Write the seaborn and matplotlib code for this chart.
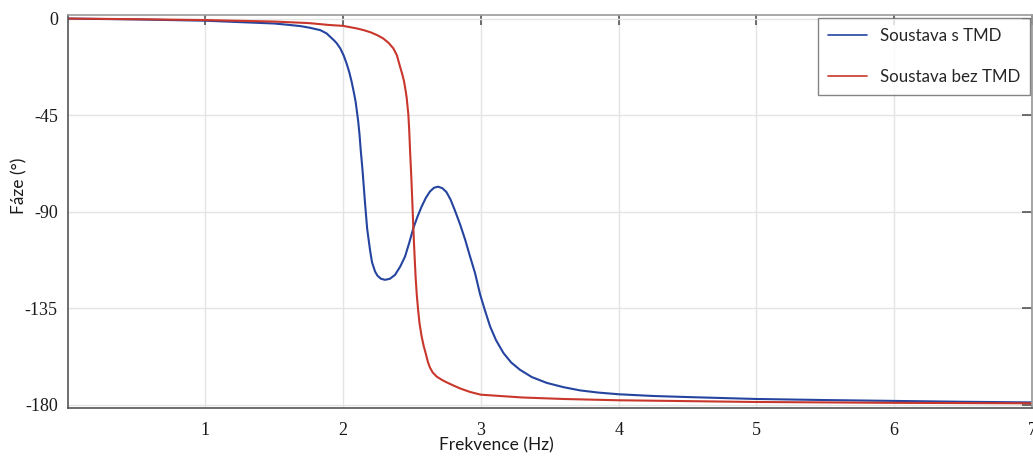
import matplotlib
matplotlib.use("Agg")
import matplotlib.pyplot as plt
import pandas as pd
import seaborn as sns

# Phase response of the structure with and without the tuned mass damper
freq_tmd = [0.0, 0.5, 1.0, 1.5, 1.6, 1.69, 1.76, 1.835, 1.88, 1.907, 1.935, 1.954,
            1.98, 2.005, 2.026, 2.045, 2.062, 2.077, 2.091, 2.10, 2.11, 2.12, 2.128,
            2.141, 2.16, 2.175, 2.196, 2.21, 2.232, 2.25, 2.275, 2.304, 2.34, 2.377,
            2.415, 2.45, 2.48, 2.51, 2.54, 2.57, 2.60, 2.63, 2.66, 2.69, 2.72, 2.75,
            2.78, 2.81, 2.85, 2.886, 2.92, 2.958, 2.995, 3.03, 3.067, 3.11, 3.164,
            3.22, 3.284, 3.37, 3.478, 3.6, 3.72, 3.85, 4.0, 4.25, 4.5, 5.0, 5.5, 6.0,
            6.5, 7.0]
phase_tmd = [0.0, -0.4, -1.0, -2.3, -2.9, -3.5, -4.3, -5.4, -6.9, -8.5, -10.2, -11.5,
             -13.9, -17.3, -21.0, -25.0, -29.4, -34.0, -38.7, -43.0, -48.0, -54.5, -61.2,
             -70.5, -86.5, -98.0, -108.0, -113.5, -117.8, -119.8, -121.2, -121.7, -121.2,
             -119.4, -115.5, -110.8, -104.5, -97.6, -92.3, -87.6, -83.6, -80.6, -78.8,
             -78.3, -79.0, -80.8, -84.3, -89.1, -96.0, -103.0, -110.5, -118.6, -128.6,
             -136.0, -143.4, -149.8, -155.8, -160.2, -163.6, -167.0, -169.7, -171.7,
             -173.2, -174.2, -175.0, -175.8, -176.3, -177.2, -177.7, -178.1, -178.5,
             -178.8]

freq_bez = [0.0, 0.5, 1.0, 1.5, 1.75, 1.9, 2.0, 2.1, 2.15, 2.2, 2.25, 2.29, 2.33,
            2.365, 2.39, 2.41, 2.43, 2.443, 2.455, 2.462, 2.474, 2.48, 2.486, 2.491,
            2.496, 2.503, 2.51, 2.515, 2.52, 2.527, 2.535, 2.545, 2.555, 2.57, 2.585,
            2.60, 2.615, 2.63, 2.65, 2.68, 2.72, 2.75, 2.8, 2.85, 2.92, 3.0, 3.3, 3.6,
            4.0, 5.0, 6.0, 7.0]
phase_bez = [0.0, -0.3, -0.7, -1.4, -2.1, -3.0, -3.4, -4.6, -5.4, -6.4, -7.8, -9.2,
             -11.3, -13.9, -17.0, -21.6, -26.0, -29.4, -34.0, -37.1, -44.9, -52.0, -61.2,
             -68.0, -75.0, -86.0, -97.6, -105.0, -112.0, -121.0, -128.7, -136.0, -142.0,
             -148.0, -152.5, -156.0, -159.8, -162.5, -164.8, -166.8, -168.4, -169.4,
             -170.9, -172.3, -173.9, -175.2, -176.5, -177.2, -177.8, -178.6, -179.0,
             -179.2]

series_names = ["Soustava s TMD", "Soustava bez TMD"]
yticks = [0, -45, -90, -135, -180]
xticks = [1, 2, 3, 4, 5, 6, 7]

df = pd.concat([
    pd.DataFrame({"f": freq_tmd, "phase": phase_tmd, "series": series_names[0]}),
    pd.DataFrame({"f": freq_bez, "phase": phase_bez, "series": series_names[1]}),
], ignore_index=True)

sns.set_theme(style="white")
plt.rcParams["axes.unicode_minus"] = False
plt.rcParams["font.family"] = ["Lato", "DejaVu Sans"]

W, H = 1033, 457
fig = plt.figure(figsize=(W / 100, H / 100), dpi=100)
left, right, top, bottom = 67.5, 1032.0, 14.7, 408.0
ax = fig.add_axes([left / W, 1 - bottom / H, (right - left) / W, (bottom - top) / H])

palette = {series_names[0]: "#2444a0", series_names[1]: "#c9362b"}
sns.lineplot(data=df, x="f", y="phase", hue="series", palette=palette,
             linewidth=1.5, sort=False, ax=ax, legend=True)

ax.set_xlim(0, 7)
ax.set_ylim(-181.4, 1.8)
ax.set_xticks(xticks)
ax.set_yticks(yticks)
ax.set_xticklabels([str(t) for t in xticks])
ax.set_yticklabels([str(t) for t in yticks])

for lab in ax.get_xticklabels() + ax.get_yticklabels():
    lab.set_fontfamily("Liberation Serif")
    lab.set_fontsize(13)
    lab.set_color("#1a1a1a")

ax.grid(True, color="#e4e4e4", linewidth=1.0)
ax.tick_params(direction="in", length=7, width=1.2, color="#555555",
               top=True, right=True)
ax.tick_params(axis="x", pad=10)
ax.tick_params(axis="y", pad=7)

for side in ["left", "bottom"]:
    ax.spines[side].set_color("#555555")
    ax.spines[side].set_linewidth(1.2)
ax.spines["top"].set_color("#9a9a9a")
ax.spines["top"].set_linewidth(1.2)
ax.spines["right"].set_color("#9a9a9a")

ax.set_xlabel("Frekvence (Hz)", fontsize=12.5, color="#1a1a1a")
ax.set_ylabel("Fáze (°)", fontsize=12.5, color="#1a1a1a")
ax.xaxis.set_label_coords((496 - left) / (right - left), -0.075)
ax.yaxis.set_label_coords((27 - left) / (right - left), (bottom - 186) / (bottom - top))

handles, labels = ax.get_legend_handles_labels()
leg = ax.legend(handles, labels, loc="upper left",
                bbox_to_anchor=(817.7 / W, 1 - 18.3 / H), bbox_transform=fig.transFigure,
                frameon=True, fancybox=False, shadow=False, fontsize=12.2,
                handlelength=2.34, handletextpad=0.78, labelspacing=1.45,
                borderpad=0.58, borderaxespad=0.0)
leg.get_frame().set_edgecolor("#666666")
leg.get_frame().set_linewidth(1.0)
for line in leg.get_lines():
    line.set_linewidth(1.2)

fig.savefig("out.png", dpi=100)
